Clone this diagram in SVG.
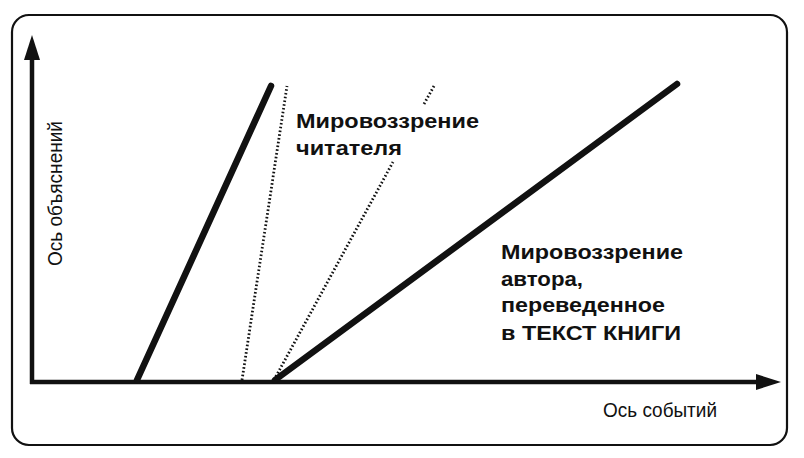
<svg xmlns="http://www.w3.org/2000/svg" width="804" height="458" viewBox="0 0 804 458">
<defs>
<style>
.frame{fill:none;stroke:#111;stroke-width:2.2}
.axis{fill:none;stroke:#111;stroke-width:4.5}
.thick{fill:none;stroke:#111;stroke-width:6.5;stroke-linecap:round}
.dot{fill:none;stroke:#111;stroke-width:2.8;stroke-dasharray:1.6 2.2}
.head{fill:#111}
.lbl{font-family:"Liberation Sans",Arial,sans-serif;font-size:21px;fill:#111}
.big{font-family:"Liberation Sans",Arial,sans-serif;font-size:21px;font-weight:bold;fill:#111}
</style>
</defs>
<rect width="804" height="458" fill="#fff"/>
<rect id="frame" class="frame" x="12" y="15" width="775" height="430" rx="17" ry="17"/>
<g id="connectors">
<line class="axis" x1="32" y1="384" x2="32" y2="56"/>
<polygon class="head" points="32,35 24,60 40,60"/>
<line class="axis" x1="30" y1="382" x2="760" y2="382"/>
<polygon class="head" points="781,382 756,374 756,390"/>
<line class="thick" x1="137" y1="380" x2="271" y2="86"/>
<line class="thick" x1="275" y1="380" x2="677" y2="84"/>
<line class="dot" x1="242" y1="380" x2="287" y2="86"/>
<line class="dot" x1="274" y1="380" x2="393" y2="162"/>
<line class="dot" x1="424" y1="104" x2="434" y2="86"/>
</g>
<g id="y-label">
<text class="lbl" transform="translate(62,266) rotate(-90)" textLength="145" lengthAdjust="spacingAndGlyphs">Ось объяснений</text>
</g>
<g id="x-label">
<text class="lbl" x="603" y="417" textLength="114" lengthAdjust="spacingAndGlyphs">Ось событий</text>
</g>
<g id="reader">
<text class="big" x="296" y="128" textLength="183" lengthAdjust="spacingAndGlyphs">Мировоззрение</text>
<text class="big" x="296" y="155" textLength="106" lengthAdjust="spacingAndGlyphs">читателя</text>
</g>
<g id="author">
<text class="big" x="501" y="259" textLength="182" lengthAdjust="spacingAndGlyphs">Мировоззрение</text>
<text class="big" x="501" y="286" textLength="82" lengthAdjust="spacingAndGlyphs">автора,</text>
<text class="big" x="501" y="312" textLength="164" lengthAdjust="spacingAndGlyphs">переведенное</text>
<text class="big" x="501" y="340" textLength="180" lengthAdjust="spacingAndGlyphs">в ТЕКСТ КНИГИ</text>
</g>
</svg>
